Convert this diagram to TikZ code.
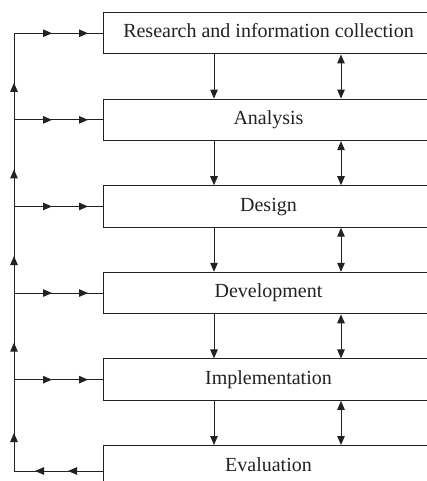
\documentclass[tikz,border=0pt]{standalone}
\usepackage{fontspec}
\setmainfont{Liberation Serif}
\usetikzlibrary{arrows.meta,decorations.markings}
\definecolor{ink}{HTML}{222222}
\begin{document}
\begin{tikzpicture}[x=1pt,y=-1pt,
  stagebox/.style={draw=ink, line width=1pt, minimum width=330pt, minimum height=41.5pt,
    inner sep=0pt, anchor=north west, text height=13.5pt, text depth=4pt, text=ink,
    font=\fontsize{20}{22}\selectfont},
  conn/.style={draw=ink, line width=1pt},
  flow/.style={conn, -{Triangle[length=9pt,width=7.5pt]}},
  both/.style={conn, {Triangle[length=9pt,width=7.5pt]}-{Triangle[length=9pt,width=7.5pt]}},
  midtip/.style={conn, postaction={decorate}, decoration={markings,
    mark=at position #1 with {\arrow[ink]{Triangle[length=9pt,width=7.5pt]}}}},
  twotips/.style 2 args={conn, postaction={decorate}, decoration={markings,
    mark=at position #1 with {\arrow[ink]{Triangle[length=9pt,width=7.5pt]}},
    mark=at position #2 with {\arrow[ink]{Triangle[length=9pt,width=7.5pt]}}}}
]
\useasboundingbox (0,0) rectangle (427,481);

\node[stagebox] (b1) at (103,12)    {Research and information collection};
\node[stagebox] (b2) at (103,98.6)  {Analysis};
\node[stagebox] (b3) at (103,185.2) {Design};
\node[stagebox] (b4) at (103,271.8) {Development};
\node[stagebox] (b5) at (103,358.4) {Implementation};
\node[stagebox] (b6) at (103,445)   {Evaluation};

% vertical guides
\coordinate (dx) at (214,0);
\coordinate (ux) at (341,0);
\coordinate (lx) at (14,0);

% down arrows and double arrows between stages
\foreach \a/\b in {b1/b2,b2/b3,b3/b4,b4/b5,b5/b6}{
  \draw[flow] (\a.south -| dx) -- (\b.north -| dx);
  \draw[both] (\a.south -| ux) -- (\b.north -| ux);
}

% feedback line
\coordinate (e6) at ([yshift=-26pt]b6.north west);
\coordinate (jb) at (e6 -| lx);
\foreach \i in {1,...,5}{
  \coordinate (j\i) at (b\i.west -| lx);
}
\draw[twotips={35pt}{68pt}] (e6) -- (jb);
\draw[midtip=38pt] (jb) -- (j5);
\foreach \a/\b in {j5/j4,j4/j3,j3/j2,j2/j1}{
  \draw[midtip=37pt] (\a) -- (\b);
}
\foreach \i in {1,...,5}{
  \draw[twotips={38pt}{74pt}] (j\i) -- (b\i.west);
}
\end{tikzpicture}
\end{document}
